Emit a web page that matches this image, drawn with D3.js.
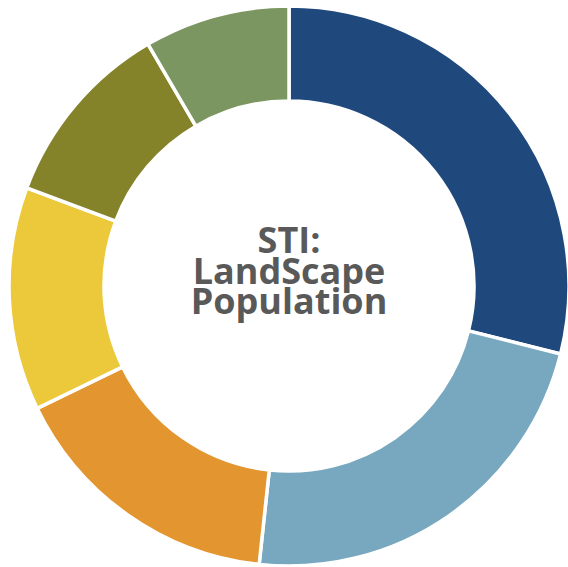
<!DOCTYPE html>
<html>
<head>
<meta charset="utf-8">
<script src="https://cdn.jsdelivr.net/npm/d3@7"></script>
<style>
  html, body { margin: 0; padding: 0; background: #fff; }
</style>
</head>
<body>
<div id="donut"></div>
<script>
const width = 568, height = 567;

// slice shares, read clockwise from 12 o'clock
const categories = ["A", "B", "C", "D", "E", "F"];
const values = [28.9, 22.8, 16.1, 12.9, 10.9, 8.4];
const colors = ["#1f497d", "#78a8bf", "#e3962f", "#ebc93b", "#84832a", "#7b9660"];
const titleLines = ["STI:", "LandScape", "Population"];

const cx = 289, cy = 286;
const outerR = 280, innerR = 185;

let svg = d3.select("#donut")
    .append("svg")
    .attr("width", width)
    .attr("height", height)
    .append("g")
    .attr("transform", `translate(${cx}, ${cy})`);

let data = categories.map((c, i) => ({ name: c, value: values[i] }));

let pie = d3.pie()
    .sort(null)
    .value(d => d.value);

let arc = d3.arc()
    .innerRadius(innerR)
    .outerRadius(outerR);

let color = d3.scaleOrdinal()
    .domain(categories)
    .range(colors);

svg.selectAll("path")
    .data(pie(data))
    .enter()
    .append("path")
    .attr("d", arc)
    .attr("fill", d => color(d.data.name))
    .attr("stroke", "#fff")
    .attr("stroke-width", 3.5)
    .attr("stroke-linejoin", "miter");

// centre title, one text block with a tspan per line
let title = svg.append("text")
    .style("text-anchor", "middle")
    .style("font-family", "'Open Sans', 'Noto Sans', sans-serif")
    .style("font-weight", "bold")
    .style("font-size", "36px")
    .style("fill", "#595959");

title.selectAll("tspan")
    .data(titleLines)
    .enter()
    .append("tspan")
    .attr("x", 0)
    .attr("y", (d, i) => -33 + i * 30.5)
    .text(d => d);
</script>
</body>
</html>
